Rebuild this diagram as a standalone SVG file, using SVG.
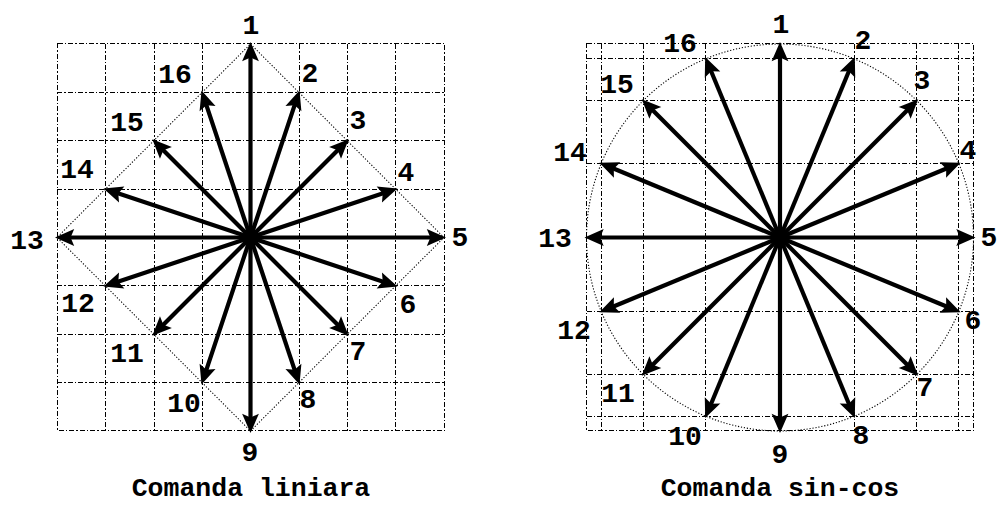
<svg xmlns="http://www.w3.org/2000/svg" width="997" height="508" viewBox="0 0 997 508">
<style>
.bg{fill:#fff}
.grid{fill:none;stroke:#000;stroke-width:1;stroke-dasharray:5 2 1.5 2;shape-rendering:crispEdges}
.guide{fill:none;stroke:#000;stroke-width:1.1;stroke-dasharray:1.2 1.8}
.arr{stroke:#000;stroke-width:4.2;fill:none;marker-end:url(#ah)}
.lbl{font-family:"Liberation Mono","Courier New",monospace;font-weight:bold;font-size:28px;fill:#000;text-anchor:middle}
.ttl{font-family:"Liberation Mono","Courier New",monospace;font-weight:bold;font-size:26.5px;fill:#000;text-anchor:middle}
</style>
<defs>
<marker id="ah" markerUnits="userSpaceOnUse" markerWidth="30" markerHeight="30" viewBox="-10 -10 25 20" refX="0" refY="0" orient="auto" overflow="visible">
<path d="M10,0 L-6,-7 L-3,0 L-6,7 Z" fill="#000"/>
</marker>
</defs>
<rect class="bg" x="0" y="0" width="997" height="508"/>

<g id="panel-liniar">
<g id="grid-liniar" class="grid">
<rect x="57.5" y="43.5" width="387" height="387"/>
<path d="M105.5,44V431M154.5,44V431M202.5,44V431M250.5,44V431M299.5,44V431M347.5,44V431M395.5,44V431M57,92.5H444M57,140.5H444M57,189.5H444M57,237.5H444M57,285.5H444M57,334.5H444M57,382.5H444"/>
</g>
<path id="diamond" class="guide" d="M250.5,44L444,237.5L250.5,431L57,237.5Z"/>
<g id="connectors-liniar">
<line class="arr" x1="250.5" y1="237.5" x2="250.5" y2="54"/>
<line class="arr" x1="250.5" y1="237.5" x2="295.71" y2="101.86"/>
<line class="arr" x1="250.5" y1="237.5" x2="340.18" y2="147.82"/>
<line class="arr" x1="250.5" y1="237.5" x2="386.14" y2="192.29"/>
<line class="arr" x1="250.5" y1="237.5" x2="434" y2="237.5"/>
<line class="arr" x1="250.5" y1="237.5" x2="386.14" y2="282.71"/>
<line class="arr" x1="250.5" y1="237.5" x2="340.18" y2="327.18"/>
<line class="arr" x1="250.5" y1="237.5" x2="295.71" y2="373.14"/>
<line class="arr" x1="250.5" y1="237.5" x2="250.5" y2="421"/>
<line class="arr" x1="250.5" y1="237.5" x2="205.29" y2="373.14"/>
<line class="arr" x1="250.5" y1="237.5" x2="160.82" y2="327.18"/>
<line class="arr" x1="250.5" y1="237.5" x2="114.86" y2="282.71"/>
<line class="arr" x1="250.5" y1="237.5" x2="67" y2="237.5"/>
<line class="arr" x1="250.5" y1="237.5" x2="114.86" y2="192.29"/>
<line class="arr" x1="250.5" y1="237.5" x2="160.82" y2="147.82"/>
<line class="arr" x1="250.5" y1="237.5" x2="205.29" y2="101.86"/>
</g>
<g id="L1"><text class="lbl" x="251" y="34">1</text></g>
<g id="L2"><text class="lbl" x="310" y="82">2</text></g>
<g id="L3"><text class="lbl" x="358" y="129">3</text></g>
<g id="L4"><text class="lbl" x="406" y="181">4</text></g>
<g id="L5"><text class="lbl" x="460" y="246">5</text></g>
<g id="L6"><text class="lbl" x="408" y="313">6</text></g>
<g id="L7"><text class="lbl" x="358" y="360">7</text></g>
<g id="L8"><text class="lbl" x="308" y="408">8</text></g>
<g id="L9"><text class="lbl" x="250" y="461">9</text></g>
<g id="L10"><text class="lbl" x="184" y="412">10</text></g>
<g id="L11"><text class="lbl" x="127" y="362">11</text></g>
<g id="L12"><text class="lbl" x="78" y="312">12</text></g>
<g id="L13"><text class="lbl" x="27" y="249">13</text></g>
<g id="L14"><text class="lbl" x="77" y="178">14</text></g>
<g id="L15"><text class="lbl" x="127" y="131">15</text></g>
<g id="L16"><text class="lbl" x="175" y="83">16</text></g>
<g id="title-liniar"><text class="ttl" x="251" y="496">Comanda liniara</text></g>
</g>

<g id="panel-sincos">
<g id="grid-sincos" class="grid">
<rect x="586.5" y="43.5" width="387" height="387"/>
<path d="M601.5,44V431M643.5,44V431M705.5,44V431M780.5,44V431M854.5,44V431M916.5,44V431M958.5,44V431M586.5,58.5H973.5M586.5,100.5H973.5M586.5,163.5H973.5M586.5,237.5H973.5M586.5,311.5H973.5M586.5,374.5H973.5M586.5,416.5H973.5"/>
</g>
<circle id="circle" class="guide" cx="780" cy="237.5" r="193.5"/>
<g id="connectors-sincos">
<line class="arr" x1="780" y1="237.5" x2="780" y2="54"/>
<line class="arr" x1="780" y1="237.5" x2="850.22" y2="67.97"/>
<line class="arr" x1="780" y1="237.5" x2="909.75" y2="107.75"/>
<line class="arr" x1="780" y1="237.5" x2="949.53" y2="167.28"/>
<line class="arr" x1="780" y1="237.5" x2="963.5" y2="237.5"/>
<line class="arr" x1="780" y1="237.5" x2="949.53" y2="307.72"/>
<line class="arr" x1="780" y1="237.5" x2="909.75" y2="367.25"/>
<line class="arr" x1="780" y1="237.5" x2="850.22" y2="407.03"/>
<line class="arr" x1="780" y1="237.5" x2="780" y2="421"/>
<line class="arr" x1="780" y1="237.5" x2="709.78" y2="407.03"/>
<line class="arr" x1="780" y1="237.5" x2="650.25" y2="367.25"/>
<line class="arr" x1="780" y1="237.5" x2="610.47" y2="307.72"/>
<line class="arr" x1="780" y1="237.5" x2="596.5" y2="237.5"/>
<line class="arr" x1="780" y1="237.5" x2="610.47" y2="167.28"/>
<line class="arr" x1="780" y1="237.5" x2="650.25" y2="107.75"/>
<line class="arr" x1="780" y1="237.5" x2="709.78" y2="67.97"/>
</g>
<g id="R1"><text class="lbl" x="781" y="33">1</text></g>
<g id="R2"><text class="lbl" x="863" y="49">2</text></g>
<g id="R3"><text class="lbl" x="922" y="89">3</text></g>
<g id="R4"><text class="lbl" x="968" y="159">4</text></g>
<g id="R5"><text class="lbl" x="989" y="246">5</text></g>
<g id="R6"><text class="lbl" x="973" y="329">6</text></g>
<g id="R7"><text class="lbl" x="925" y="396">7</text></g>
<g id="R8"><text class="lbl" x="861" y="444">8</text></g>
<g id="R9"><text class="lbl" x="780" y="463">9</text></g>
<g id="R10"><text class="lbl" x="685" y="445">10</text></g>
<g id="R11"><text class="lbl" x="618" y="402">11</text></g>
<g id="R12"><text class="lbl" x="574" y="339">12</text></g>
<g id="R13"><text class="lbl" x="555" y="247">13</text></g>
<g id="R14"><text class="lbl" x="570" y="161">14</text></g>
<g id="R15"><text class="lbl" x="617" y="93">15</text></g>
<g id="R16"><text class="lbl" x="680" y="52">16</text></g>
<g id="title-sincos"><text class="ttl" x="780" y="496">Comanda sin-cos</text></g>
</g>
</svg>
